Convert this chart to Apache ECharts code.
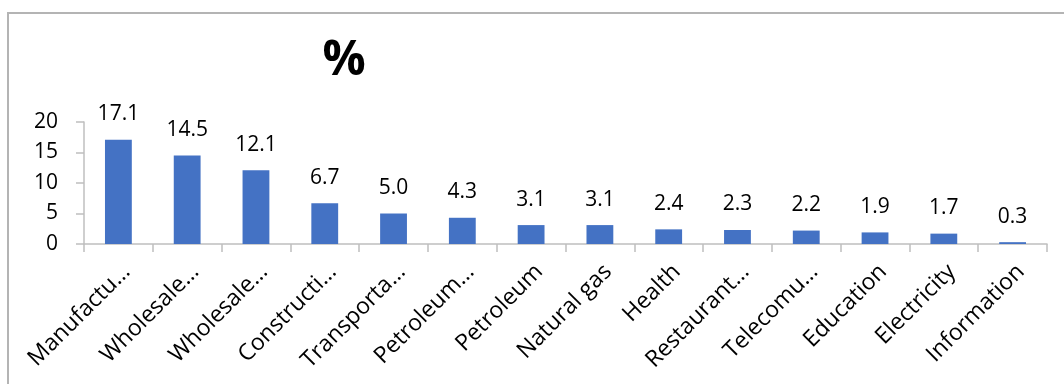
<!DOCTYPE html>
<html>
<head>
<meta charset="utf-8">
<style>
  html, body { margin: 0; padding: 0; background: #fff; }
  #chart { width: 1064px; height: 384px; }
</style>
<script src="https://cdn.jsdelivr.net/npm/echarts@6/dist/echarts.min.js"></script>
</head>
<body>
<div id="chart"></div>
<script>
// sector labels as shown (already cut off in the source)
const categories = ['Manufactu…', 'Wholesale…', 'Wholesale…', 'Constructi…', 'Transporta…', 'Petroleum…',
  'Petroleum', 'Natural gas', 'Health', 'Restaurant…', 'Telecomu…', 'Education', 'Electricity', 'Information'];
const shares = [17.1, 14.5, 12.1, 6.7, 5.0, 4.3, 3.1, 3.1, 2.4, 2.3, 2.2, 1.9, 1.7, 0.3];
const yTicks = [0, 5, 10, 15, 20];

const font = '"Open Sans", Lato, sans-serif';
const chart = echarts.init(document.getElementById('chart'), null, { renderer: 'canvas' });

chart.setOption({
  animation: false,
  backgroundColor: '#fff',
  title: {
    text: '%',
    left: 339,
    top: 32,
    textAlign: 'center',
    textStyle: { fontFamily: font, fontSize: 48, fontWeight: 'bold', color: '#000' }
  },
  graphic: [{
    type: 'rect',
    shape: { x: 8, y: 13, width: 1100, height: 420 },
    style: { fill: 'none', stroke: '#b4b4b4', lineWidth: 2 },
    silent: true,
    z: -1
  }],
  grid: { left: 84, right: 17, top: 122, bottom: 140 },
  xAxis: {
    type: 'category',
    data: categories,
    axisLine: { lineStyle: { color: '#bfbfbf', width: 1.5 } },
    axisTick: { show: true, length: 8, lineStyle: { color: '#bfbfbf', width: 1.5 } },
    axisLabel: {
      interval: 0,
      rotate: 45,
      margin: 16,
      verticalAlign: 'top',
      fontFamily: font,
      fontSize: 23,
      color: '#000'
    }
  },
  yAxis: {
    type: 'value',
    min: yTicks[0],
    max: yTicks[yTicks.length - 1],
    interval: 5,
    splitLine: { show: false },
    axisLine: { show: true, lineStyle: { color: '#bfbfbf', width: 1.5 } },
    axisTick: { show: true, length: 8, lineStyle: { color: '#bfbfbf', width: 1.5 } },
    axisLabel: { margin: 26, fontFamily: font, fontSize: 21, color: '#000' }
  },
  series: [{
    type: 'bar',
    data: shares,
    barWidth: '39%',
    itemStyle: { color: '#4472C4' },
    label: {
      show: true,
      position: 'top',
      distance: 15,
      fontFamily: font,
      fontSize: 21,
      color: '#000',
      formatter: p => p.value.toFixed(1)
    }
  }]
});
</script>
</body>
</html>
